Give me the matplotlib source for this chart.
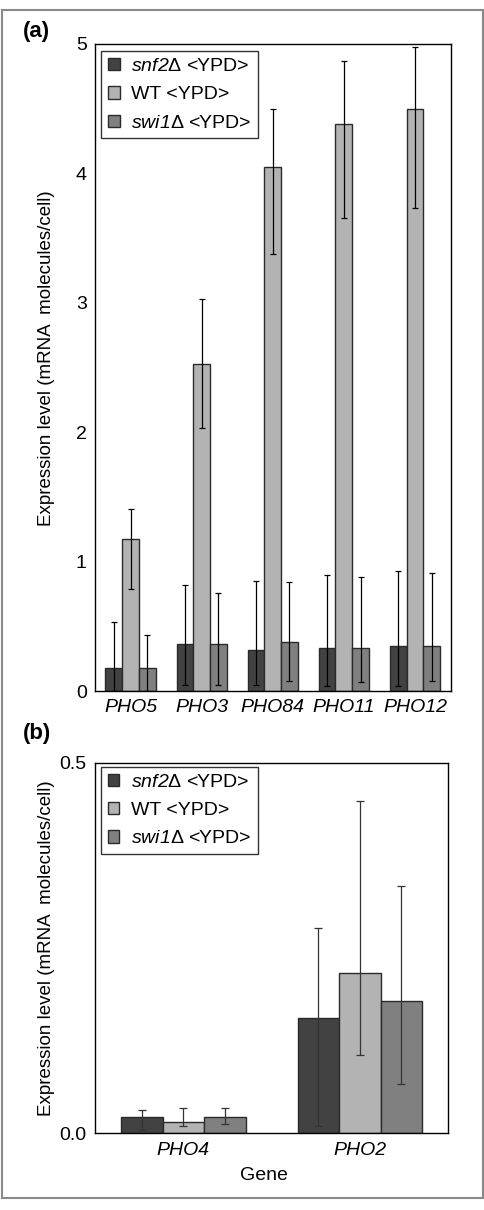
import matplotlib
matplotlib.use("Agg")
import matplotlib.pyplot as plt
from matplotlib.patches import Rectangle
import numpy as np

plt.rcParams['font.family'] = ['Liberation Sans', 'DejaVu Sans']
plt.rcParams['mathtext.fontset'] = 'custom'
# mathrm is used only for the italic gene names in the legend (digits included)
plt.rcParams['mathtext.rm'] = 'Liberation Sans:italic'
plt.rcParams['mathtext.it'] = 'Liberation Sans:italic'

# series labels and colours
strains = [r'$\mathrm{snf2}$Δ <YPD>', 'WT <YPD>', r'$\mathrm{swi1}$Δ <YPD>']
colors = ['#424242', '#b3b3b3', '#808080']

# panel (a)
genes_a = ['PHO5', 'PHO3', 'PHO84', 'PHO11', 'PHO12']
vals_a = [
    [0.175, 0.366, 0.32, 0.335, 0.35],   # snf2
    [1.175, 2.53, 4.05, 4.38, 4.50],      # WT
    [0.175, 0.366, 0.38, 0.335, 0.35],   # swi1
]
# error bar ends (low, high)
lo_a = [
    [0.0, 0.05, 0.05, 0.04, 0.04],
    [0.79, 2.035, 3.38, 3.655, 3.735],
    [0.0, 0.05, 0.08, 0.07, 0.08],
]
hi_a = [
    [0.535, 0.82, 0.85, 0.90, 0.93],
    [1.41, 3.03, 4.50, 4.87, 4.98],
    [0.43, 0.76, 0.84, 0.88, 0.91],
]

# panel (b)
genes_b = ['PHO4', 'PHO2']
vals_b = [
    [0.022, 0.155],
    [0.015, 0.216],
    [0.022, 0.179],
]
lo_b = [
    [0.005, 0.010],
    [0.010, 0.106],
    [0.013, 0.067],
]
hi_b = [
    [0.031, 0.277],
    [0.034, 0.448],
    [0.034, 0.334],
]

W, H = 484, 1210
fig = plt.figure(figsize=(W / 100, H / 100), dpi=100)


def px_axes(left, top, right, bottom):
    return fig.add_axes([left / W, 1 - bottom / H, (right - left) / W, (bottom - top) / H])


def draw_panel(ax, genes, vals, lo, hi, ylim, yticks, yticklabels, capsize, ecolor):
    x = np.arange(len(genes))
    w = 0.235
    for i in range(3):
        v = np.array(vals[i])
        err = [v - np.array(lo[i]), np.array(hi[i]) - v]
        ax.bar(x + (i - 1) * w, v, w, color=colors[i], edgecolor='#2a2a2a',
               linewidth=1.0, label=strains[i], zorder=2)
        ax.errorbar(x + (i - 1) * w, v, yerr=err, fmt='none', ecolor=ecolor,
                    elinewidth=0.9, capsize=capsize, capthick=0.9, zorder=3)
    ax.set_xlim(-0.5, len(genes) - 0.5)
    ax.set_ylim(*ylim)
    ax.set_xticks(x)
    ax.set_xticklabels(genes, fontstyle='italic', fontsize=14)
    ax.set_yticks(yticks)
    ax.set_yticklabels(yticklabels, fontsize=14)
    ax.tick_params(length=0, pad=6)
    for s in ax.spines.values():
        s.set_linewidth(1.0)
        s.set_color('black')
    leg = ax.legend(loc='upper left', bbox_to_anchor=(0.017, 0.989), borderaxespad=0,
                    fontsize=14, frameon=True, fancybox=False, edgecolor='black',
                    handlelength=0.6, handleheight=0.6, handletextpad=0.6,
                    labelspacing=0.58, borderpad=0.35)
    leg.get_frame().set_linewidth(1.0)


ax_a = px_axes(95, 44, 450.5, 691)
draw_panel(ax_a, genes_a, vals_a, lo_a, hi_a, (0, 5), [0, 1, 2, 3, 4, 5],
           ['0', '1', '2', '3', '4', '5'], 2.3, 'black')

ax_b = px_axes(95, 762.7, 448.3, 1133.3)
draw_panel(ax_b, genes_b, vals_b, lo_b, hi_b, (0, 0.5), [0, 0.5],
           ['0.0', '0.5'], 2.6, '#333333')

ylab = 'Expression level (mRNA  molecules/cell)'
fig.text(47 / W, 1 - 358 / H, ylab, rotation=90, ha='center', va='center', fontsize=13.5)
fig.text(47 / W, 1 - 948 / H, ylab, rotation=90, ha='center', va='center', fontsize=13.5)
fig.text(264 / W, 1 - 1175 / H, 'Gene', ha='center', va='center', fontsize=14)

fig.text(23 / W, 1 - 31 / H, '(a)', ha='left', va='center', fontsize=16, fontweight='bold')
fig.text(23 / W, 1 - 733 / H, '(b)', ha='left', va='center', fontsize=16, fontweight='bold')

fig.patches.append(Rectangle((2 / W, 12 / H), 480.5 / W, 1188 / H, transform=fig.transFigure,
                             fill=False, edgecolor='#8a8a8a', linewidth=1.5))

fig.savefig('out.png', dpi=100)
